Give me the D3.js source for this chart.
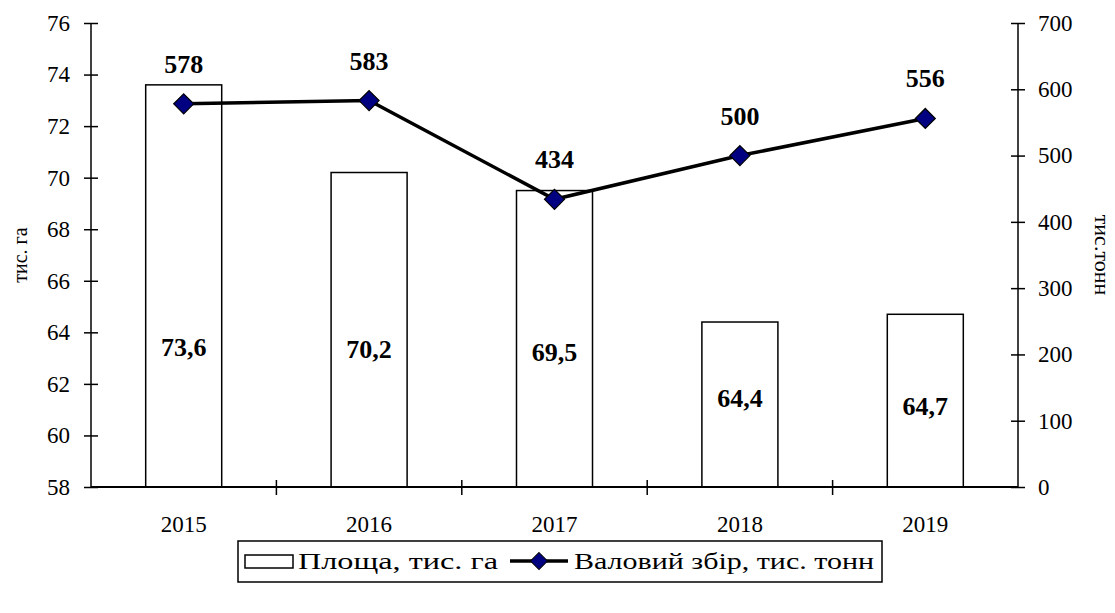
<!DOCTYPE html>
<html>
<head>
<meta charset="utf-8">
<script src="https://cdn.jsdelivr.net/npm/d3@7"></script>
<style>
  body { margin: 0; background: #fff; }
  svg text { font-family: "Liberation Serif", "Times New Roman", serif; fill: #000; }
</style>
</head>
<body>
<svg id="chart" width="1115" height="613"></svg>
<script>
// data
var years = ["2015", "2016", "2017", "2018", "2019"];
var area = [73.6, 70.2, 69.5, 64.4, 64.7];      // тис. га
var harvest = [578, 583, 434, 500, 556];         // тис. тонн
var leftTicks = [58, 60, 62, 64, 66, 68, 70, 72, 74, 76];
var rightTicks = [0, 100, 200, 300, 400, 500, 600, 700];
// where the bar labels sit (left axis units, baseline)
var areaLabelAt = [63.1, 63.0, 62.9, 61.1, 60.8];

var svg = d3.select("#chart");
var margin = { top: 23, right: 97, bottom: 126, left: 91 };
var width = 1115 - margin.left - margin.right;
var height = 613 - margin.top - margin.bottom;

var g = svg.append("g")
    .attr("transform", "translate(" + margin.left + "," + margin.top + ")");

var x = d3.scaleBand().domain(years).range([0, width]).padding(0);
var yL = d3.scaleLinear().domain([58, 76]).range([height, 0]);
var yR = d3.scaleLinear().domain([0, 700]).range([height, 0]);

var barW = x.bandwidth() * 0.41;

// bars
g.selectAll("rect.bar")
    .data(area)
    .enter().append("rect")
    .attr("class", "bar")
    .attr("x", function (d, i) { return x(years[i]) + (x.bandwidth() - barW) / 2; })
    .attr("y", function (d) { return yL(d); })
    .attr("width", barW)
    .attr("height", function (d) { return height - yL(d); })
    .attr("fill", "#fff")
    .attr("stroke", "#000")
    .attr("stroke-width", 1.5);

// bar labels
g.selectAll("text.areaLbl")
    .data(area)
    .enter().append("text")
    .attr("class", "areaLbl")
    .attr("x", function (d, i) { return x(years[i]) + x.bandwidth() / 2; })
    .attr("y", function (d, i) { return yL(areaLabelAt[i]); })
    .attr("text-anchor", "middle")
    .attr("font-size", 26)
    .attr("font-weight", "bold")
    .text(function (d) { return String(d).replace(".", ","); });

// left axis
var axL = g.append("g")
    .call(d3.axisLeft(yL).tickValues(leftTicks).tickSize(7).tickPadding(14).tickFormat(d3.format("d")));
axL.select(".domain").attr("stroke-width", 1.5).attr("d", "M0," + height + "V0");
axL.selectAll(".tick line").attr("x1", 7).attr("stroke-width", 1.5);
axL.selectAll(".tick text").attr("font-size", 23);

// right axis
var axR = g.append("g")
    .attr("transform", "translate(" + width + ",0)")
    .call(d3.axisRight(yR).tickValues(rightTicks).tickSize(7).tickPadding(13));
axR.select(".domain").attr("stroke-width", 1.5).attr("d", "M0," + height + "V0");
axR.selectAll(".tick line").attr("x1", -7).attr("stroke-width", 1.5);
axR.selectAll(".tick text").attr("font-size", 23);

// bottom axis: ticks between categories, labels centred
var axB = g.append("g").attr("transform", "translate(0," + height + ")");
axB.append("line")
    .attr("x1", 0).attr("x2", width)
    .attr("stroke", "#000").attr("stroke-width", 2);
axB.selectAll("line.sep")
    .data(years.slice(1))
    .enter().append("line")
    .attr("class", "sep")
    .attr("x1", function (d) { return x(d); })
    .attr("x2", function (d) { return x(d); })
    .attr("y1", -7).attr("y2", 8)
    .attr("stroke", "#000").attr("stroke-width", 1.5);
axB.selectAll("text")
    .data(years)
    .enter().append("text")
    .attr("x", function (d) { return x(d) + x.bandwidth() / 2; })
    .attr("y", 45)
    .attr("text-anchor", "middle")
    .attr("font-size", 23)
    .text(function (d) { return d; });

// line series
var line = d3.line()
    .x(function (d, i) { return x(years[i]) + x.bandwidth() / 2; })
    .y(function (d) { return yR(d); });

g.append("path")
    .datum(harvest)
    .attr("d", line)
    .attr("fill", "none")
    .attr("stroke", "#000")
    .attr("stroke-width", 3.5);

var diamond = "M0,-10L10,0L0,10L-10,0Z";
g.selectAll("path.pt")
    .data(harvest)
    .enter().append("path")
    .attr("class", "pt")
    .attr("d", diamond)
    .attr("transform", function (d, i) {
        return "translate(" + (x(years[i]) + x.bandwidth() / 2) + "," + yR(d) + ")";
    })
    .attr("fill", "#000080")
    .attr("stroke", "#000")
    .attr("stroke-width", 1.2);

g.selectAll("text.hLbl")
    .data(harvest)
    .enter().append("text")
    .attr("class", "hLbl")
    .attr("x", function (d, i) { return x(years[i]) + x.bandwidth() / 2; })
    .attr("y", function (d) { return yR(d) - 31; })
    .attr("text-anchor", "middle")
    .attr("font-size", 26)
    .attr("font-weight", "bold")
    .text(function (d) { return d; });

// axis titles
svg.append("text")
    .attr("transform", "translate(27," + (margin.top + height / 2) + ") rotate(-90)")
    .attr("text-anchor", "middle")
    .attr("font-size", 20)
    .text("тис. га");

svg.append("text")
    .attr("transform", "translate(1095," + (margin.top + height / 2) + ") rotate(90)")
    .attr("text-anchor", "middle")
    .attr("font-size", 22)
    .text("тис.тонн");

// legend
var lg = svg.append("g").attr("transform", "translate(238,541)");
lg.append("rect")
    .attr("width", 644).attr("height", 41)
    .attr("fill", "#fff").attr("stroke", "#000").attr("stroke-width", 1.5);
lg.append("rect")
    .attr("x", 7).attr("y", 14).attr("width", 48).attr("height", 13)
    .attr("fill", "#fff").attr("stroke", "#000").attr("stroke-width", 1.5);
lg.append("text")
    .attr("x", 60).attr("y", 28)
    .attr("font-size", 24)
    .attr("textLength", 200).attr("lengthAdjust", "spacingAndGlyphs")
    .text("Площа, тис. га");
lg.append("line")
    .attr("x1", 272).attr("x2", 330).attr("y1", 20).attr("y2", 20)
    .attr("stroke", "#000").attr("stroke-width", 3.5);
lg.append("path")
    .attr("d", diamond)
    .attr("transform", "translate(301,20) scale(0.85)")
    .attr("fill", "#000080").attr("stroke", "#000").attr("stroke-width", 1.2);
lg.append("text")
    .attr("x", 336).attr("y", 28)
    .attr("font-size", 24)
    .attr("textLength", 300).attr("lengthAdjust", "spacingAndGlyphs")
    .text("Валовий збір, тис. тонн");
</script>
</body>
</html>
